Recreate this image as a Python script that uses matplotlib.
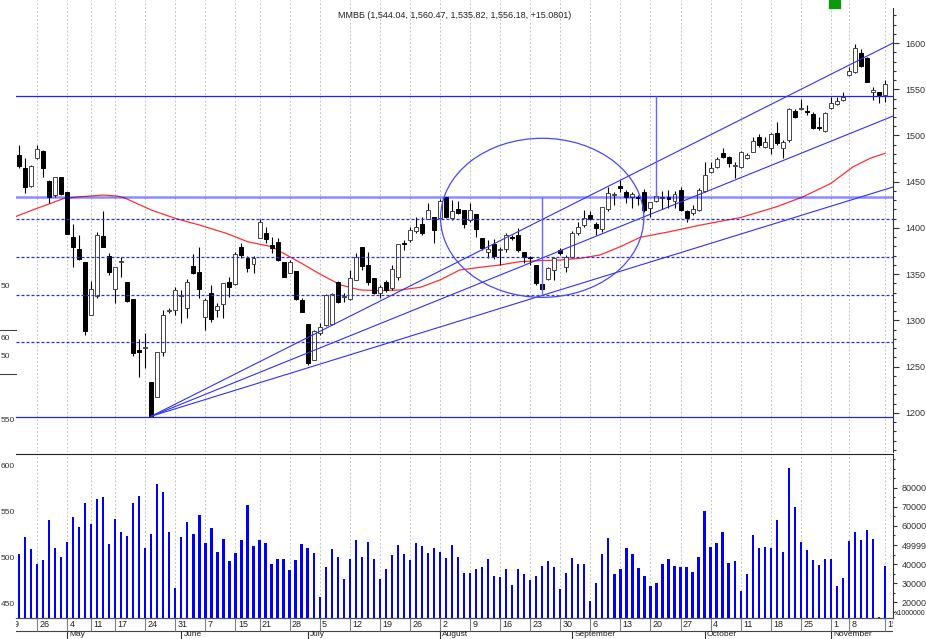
import matplotlib
matplotlib.use("Agg")
import matplotlib.pyplot as plt
from matplotlib.patches import Rectangle, Ellipse
from matplotlib.ticker import FixedLocator
import numpy as np
import pandas as pd

plt.rcParams['font.family'] = ['Liberation Sans', 'DejaVu Sans']

# MICEX trading days 2010 (May/June/Nov holidays, working Saturday Nov 13)
days = pd.bdate_range('2010-04-19', '2010-11-15')
days = days.difference(pd.to_datetime(['2010-05-03', '2010-05-10', '2010-06-14',
                                       '2010-11-04', '2010-11-05']))
days = days.union(pd.to_datetime(['2010-11-13']))
first = 2  # first visible candle (Apr 21)

opens = [1478.9, 1464.5, 1445.3, 1475.3, 1483.6, 1451.1, 1435.6, 1455.4, 1438.5, 1389.9,
         1376.9, 1363.5, 1305.9, 1326.8, 1391.7, 1370.0, 1333.6, 1362.8, 1341.9, 1322.8,
         1268.0, 1270.5, 1233.8, 1216.9, 1266.2, 1310.2, 1311.3, 1326.8, 1313.1, 1358.9,
         1352.0, 1303.3, 1329.3, 1311.3, 1317.8, 1341.9, 1339.4, 1379.8, 1367.9, 1360.7,
         1388.8, 1394.9, 1381.6, 1385.2, 1362.8, 1351.6, 1353.8, 1322.1, 1295.8, 1257.2,
         1286.1, 1295.2, 1296.2, 1342.0, 1325.7, 1322.9, 1343.8, 1379.1, 1360.0, 1345.6,
         1329.4, 1342.0, 1334.8, 1347.4, 1384.1, 1387.0, 1397.1, 1404.3, 1409.4, 1412.2,
         1410.4, 1433.1, 1410.4, 1420.2, 1419.5, 1408.6, 1414.8, 1388.8, 1374.4, 1382.7,
         1376.2, 1376.9, 1389.5, 1392.4, 1374.4, 1367.5, 1360.0, 1339.0, 1344.5, 1354.6,
         1376.2, 1358.2, 1369.0, 1394.2, 1403.2, 1414.0, 1404.3, 1399.0, 1421.0, 1435.6,
         1445.7, 1439.2, 1433.1, 1433.4, 1438.5, 1421.2, 1429.5, 1432.0, 1433.4, 1429.1,
         1441.0, 1418.7, 1415.8, 1419.4, 1439.9, 1460.8, 1466.2, 1481.4, 1477.1, 1466.9,
         1466.2, 1475.3, 1481.7, 1498.7, 1487.9, 1486.1, 1502.3, 1486.1, 1495.1, 1526.4,
         1528.6, 1526.4, 1523.5, 1508.4, 1504.8, 1529.3, 1534.0, 1538.3, 1565.4, 1568.2,
         1588.8, 1584.1, 1546.6, 1546.6, 1544.04]
highs = [1489.7, 1475.3, 1468.0, 1489.7, 1484.0, 1451.5, 1455.5, 1455.5, 1439.0, 1403.9,
         1392.4, 1363.5, 1343.0, 1396.0, 1418.7, 1373.3, 1357.4, 1369.0, 1342.0, 1323.0,
         1279.6, 1286.8, 1234.0, 1266.0, 1311.3, 1313.1, 1335.8, 1332.9, 1344.4, 1371.8,
         1379.0, 1323.9, 1338.3, 1318.5, 1340.1, 1347.3, 1374.4, 1383.4, 1369.7, 1369.7,
         1409.3, 1401.4, 1390.6, 1388.8, 1363.0, 1365.3, 1354.0, 1323.9, 1296.0, 1289.6,
         1296.9, 1328.7, 1329.4, 1342.3, 1329.4, 1354.6, 1372.6, 1379.5, 1374.4, 1345.9,
         1338.4, 1343.8, 1360.0, 1382.7, 1387.0, 1400.7, 1412.2, 1412.2, 1427.4, 1412.3,
         1431.0, 1433.3, 1430.3, 1429.5, 1419.6, 1427.4, 1414.9, 1389.0, 1387.0, 1387.7,
         1379.8, 1394.2, 1392.4, 1399.6, 1374.5, 1369.7, 1360.1, 1340.0, 1358.2, 1368.3,
         1378.0, 1370.8, 1396.7, 1406.8, 1419.5, 1418.7, 1406.8, 1423.1, 1444.0, 1439.2,
         1451.8, 1441.0, 1439.2, 1435.6, 1442.1, 1428.4, 1439.2, 1439.9, 1441.0, 1439.9,
         1444.6, 1419.4, 1424.8, 1442.8, 1471.6, 1471.6, 1477.1, 1486.1, 1478.1, 1471.6,
         1483.2, 1480.7, 1498.7, 1501.2, 1498.7, 1502.3, 1514.2, 1495.1, 1530.0, 1528.6,
         1539.4, 1532.9, 1525.0, 1520.3, 1525.0, 1541.9, 1541.9, 1547.3, 1574.4, 1598.5,
         1593.5, 1585.2, 1552.7, 1547.3, 1560.47]
lows = [1464.5, 1437.4, 1444.0, 1475.0, 1455.4, 1426.6, 1433.8, 1435.6, 1393.0, 1358.1,
        1365.3, 1284.3, 1305.9, 1323.9, 1379.8, 1349.1, 1318.5, 1347.3, 1320.3, 1261.5,
        1238.5, 1248.2, 1196.0, 1216.9, 1261.5, 1307.7, 1305.9, 1297.6, 1302.3, 1350.2,
        1323.9, 1289.6, 1298.7, 1304.1, 1302.3, 1325.7, 1338.3, 1367.2, 1352.7, 1351.6,
        1388.8, 1383.4, 1372.6, 1364.6, 1347.0, 1350.9, 1322.5, 1309.0, 1251.8, 1257.0,
        1284.3, 1294.1, 1295.2, 1318.5, 1320.3, 1322.5, 1343.8, 1354.6, 1338.4, 1328.6,
        1323.9, 1331.2, 1333.0, 1343.8, 1376.2, 1385.2, 1394.2, 1392.4, 1409.4, 1383.4,
        1408.6, 1410.4, 1408.6, 1415.1, 1399.6, 1406.8, 1390.6, 1376.2, 1367.2, 1366.1,
        1360.0, 1374.4, 1387.0, 1374.4, 1361.8, 1360.0, 1338.4, 1333.0, 1343.8, 1343.8,
        1370.8, 1352.8, 1367.2, 1392.4, 1401.4, 1408.6, 1392.4, 1396.0, 1418.0, 1424.8,
        1439.2, 1426.6, 1421.2, 1424.8, 1417.6, 1412.2, 1428.4, 1421.0, 1421.2, 1421.2,
        1418.3, 1406.8, 1414.0, 1418.3, 1439.2, 1459.0, 1465.2, 1475.3, 1466.2, 1454.4,
        1465.2, 1474.5, 1481.7, 1487.1, 1486.1, 1479.6, 1489.7, 1476.0, 1492.6, 1518.5,
        1527.5, 1522.1, 1507.0, 1505.9, 1503.4, 1528.6, 1532.9, 1537.6, 1564.6, 1567.2,
        1574.4, 1557.4, 1538.3, 1534.7, 1535.82]
closes = [1467.0, 1444.6, 1467.3, 1485.0, 1464.5, 1433.8, 1455.4, 1436.7, 1393.5, 1379.0,
          1366.1, 1288.9, 1334.4, 1392.4, 1379.8, 1352.7, 1357.4, 1363.0, 1321.4, 1265.2,
          1265.9, 1271.0, 1196.7, 1265.5, 1305.9, 1310.7, 1332.9, 1327.3, 1341.9, 1350.9,
          1334.0, 1322.1, 1301.2, 1315.6, 1340.1, 1336.5, 1371.8, 1370.8, 1357.1, 1367.9,
          1406.8, 1387.7, 1378.0, 1365.3, 1347.3, 1363.5, 1322.8, 1309.5, 1254.3, 1288.6,
          1292.6, 1327.6, 1328.3, 1320.3, 1326.0, 1345.6, 1368.3, 1359.3, 1342.0, 1330.1,
          1336.6, 1333.0, 1355.3, 1382.7, 1382.7, 1397.8, 1401.4, 1394.2, 1419.5, 1397.8,
          1429.5, 1412.2, 1418.7, 1415.8, 1404.3, 1419.5, 1399.3, 1378.0, 1377.3, 1369.7,
          1376.5, 1392.4, 1389.1, 1376.2, 1368.3, 1367.2, 1340.2, 1334.0, 1357.1, 1367.2,
          1372.6, 1369.0, 1395.0, 1401.4, 1410.4, 1409.4, 1399.6, 1422.5, 1437.5, 1435.9,
          1442.8, 1433.8, 1436.7, 1432.0, 1419.4, 1427.7, 1434.5, 1433.5, 1430.9, 1436.3,
          1419.4, 1411.1, 1420.5, 1441.0, 1457.2, 1465.2, 1474.5, 1476.7, 1469.8, 1467.0,
          1481.7, 1478.9, 1494.0, 1489.7, 1492.5, 1501.2, 1491.5, 1493.3, 1528.6, 1520.3,
          1530.0, 1525.0, 1508.4, 1508.0, 1523.9, 1534.7, 1537.2, 1541.2, 1569.7, 1594.9,
          1575.4, 1558.1, 1549.1, 1543.7, 1556.18]
volumes = [45128, 54028, 47920, 39893, 41987, 63102, 48269, 43558, 51759, 64847,
           59263, 71827, 61183, 74270, 75317, 50538, 63800, 56645, 54551, 72176,
           75666, 48618, 55598, 82122, 77760, 56645, 27504, 54377, 62055, 55947,
           65894, 51236, 58914, 46176, 52981, 41638, 46001, 52807, 71129, 49666,
           52632, 51236, 39893, 42685, 42685, 36926, 41987, 50538, 48269, 45826,
           22618, 38672, 47920, 43907, 32041, 42685, 52632, 43558, 51410, 42860,
           32041, 37276, 44954, 50189, 45477, 41987, 50887, 49666, 45652, 48618,
           46524, 43384, 50189, 43733, 35182, 35182, 37625, 38672, 42511, 33786,
           33088, 37451, 29075, 37276, 34833, 31692, 33961, 39021, 41638, 38323,
           26980, 35531, 43035, 39893, 40242, 20699, 29948, 45128, 53592, 34833,
           37625, 48618, 45128, 37974, 33786, 28376, 30121, 39893, 42511, 39196,
           38323, 38672, 36055, 43558, 67639, 48968, 50887, 56820, 40591, 41812,
           26108, 34833, 55249, 48269, 48968, 48618, 62927, 46350, 90324, 69908,
           51410, 47225, 42161, 39545, 42511, 42511, 28726, 32739, 52109, 56820,
           52632, 57867, 52981, 12300, 39196]

# moving average (red), read at sample positions (trading-day index)
ma_idx = [1.5, 4.5, 9.5, 12.3, 16, 18.4, 19.5, 24, 28, 32, 36.5, 40, 44, 47, 49, 52,
          55.5, 58.7, 62, 65.4, 68.7, 72, 75.3, 78.7, 82, 85.3, 88.6, 92, 95.3, 98.6,
          102, 105.3, 110.2, 115.2, 122, 128, 132.4, 137, 140.7, 143.5, 146]
ma_val = [1412.5, 1420.0, 1432.0, 1433.8, 1435.6, 1434.5, 1432.7, 1419.4, 1410.4, 1403.2,
          1394.2, 1385.2, 1379.8, 1369.0, 1361.8, 1350.3, 1338.4, 1333.0, 1332.2, 1333.0,
          1335.8, 1343.8, 1354.6, 1357.5, 1360.0, 1363.6, 1364.7, 1365.4, 1367.2, 1370.8,
          1379.8, 1389.9, 1396.0, 1403.0, 1411.3, 1423.0, 1433.8, 1448.2, 1466.2, 1475.3,
          1480.7]

# drawn studies
solid_levels = [1542.2, 1195.3]
band_level = 1433.7
dashed_levels = [1409.3, 1368.6, 1327.2, 1276.4]
fan_apex = (24, 1196.5)
fan_end_idx = 147.33
fan_end_price = [1600.0, 1521.0, 1444.3]
vert_lines = [(89, 1327.2, 1433.7), (108, 1433.7, 1542.2)]
ellipse_c, ellipse_w, ellipse_h = (89.0, 1411.0), 33.8, 172.0

vol_ticks = [20000, 30000, 40000, 50000, 60000, 70000, 80000]
vol_labels = ['20000', '30000', '40000', '49999', '60000', '70000', '80000']

x = np.arange(first, first + len(opens))
wk = days.isocalendar().week.values
week_idx = [i for i in range(len(days)) if i == 0 or wk[i] != wk[i - 1]]
month_idx = [i for i in range(1, len(days)) if days[i].month != days[i - 1].month]

W, H = 926, 639
fig = plt.figure(figsize=(W / 100, H / 100), dpi=100)
L, R = 16, 893
xlim = (1.508, 147.33)

# ---- price panel
ax = fig.add_axes([L / W, (H - 452) / H, (R - L) / W, 452 / H])
ax.set_xlim(*xlim)
ax.set_ylim(1157.8, 1646.5)
for wi in week_idx:
    ax.axvline(wi, color='#c4c4c4', lw=0.7, ls=(0, (2, 2)), zorder=0)

ax.plot(ma_idx, ma_val, color='#ff3030', lw=0.9, zorder=2)
for lv in solid_levels:
    ax.axhline(lv, color='#2222ff', lw=0.9, zorder=5)
ax.axhline(band_level, color='#0000ff', alpha=0.45, lw=1.8, zorder=5)
for lv in dashed_levels:
    ax.axhline(lv, color='#2a2aee', lw=0.9, ls=(0, (2.4, 1.6)), zorder=5)
for p in fan_end_price:
    ax.plot([fan_apex[0], fan_end_idx], [fan_apex[1], p], color='#3030ff', lw=0.8, zorder=5)
for vx, y0, y1 in vert_lines:
    ax.vlines(vx, y0, y1, color='#6666ff', lw=1.0, zorder=5)
ax.add_patch(Ellipse(ellipse_c, ellipse_w, ellipse_h, fill=False,
                     edgecolor='#4848ff', lw=0.9, zorder=5))

for xi, o, h, l, c in zip(x, opens, highs, lows, closes):
    ax.vlines(xi, l, h, color='black', lw=0.8, zorder=3)
    up = c >= o
    ax.add_patch(Rectangle((xi - 0.33, min(o, c)), 0.66, max(abs(c - o), 1.0),
                           facecolor='white' if up else 'black',
                           edgecolor='#444444' if up else 'black', lw=0.7, zorder=4))

ax.set_xticks([])
ax.yaxis.tick_right()
ax.yaxis.set_major_locator(FixedLocator(np.arange(1200, 1601, 50)))
ax.yaxis.set_minor_locator(FixedLocator(np.arange(1160, 1640, 10)))
ax.tick_params(axis='y', which='major', length=4.5, width=0.8, pad=4.5,
               labelsize=6.5, color='#333333', labelcolor='#333333')
ax.tick_params(axis='y', which='minor', length=2, width=0.8, color='#333333')
for s in ['top', 'left', 'bottom']:
    ax.spines[s].set_visible(False)
ax.spines['right'].set_bounds(1157.8, 1637.8)
ax.spines['right'].set_color('#333333')

# ---- volume panel
vbase, vtop = 11780, 97650
axv = fig.add_axes([L / W, (H - 618) / H, (R - L) / W, 164 / H])
axv.set_xlim(*xlim)
axv.set_ylim(vbase, vtop)
for wi in week_idx:
    axv.axvline(wi, color='#c4c4c4', lw=0.7, ls=(0, (2, 2)), zorder=0)
axv.bar(x, np.array(volumes) - vbase, bottom=vbase, width=0.38, color='#0000ff', zorder=2)
axv.set_xticks([])
axv.yaxis.tick_right()
axv.yaxis.set_major_locator(FixedLocator(vol_ticks))
axv.set_yticklabels(vol_labels)
axv.yaxis.set_minor_locator(FixedLocator(np.arange(15000, 96000, 5000)))
axv.tick_params(axis='y', which='major', length=3, width=0.8, pad=3,
                labelsize=6.5, color='#333333', labelcolor='#333333')
axv.tick_params(axis='y', which='minor', length=1.5, width=0.8, color='#333333')
for s in ['left', 'bottom']:
    axv.spines[s].set_visible(False)
axv.spines['top'].set_color('#222222')
axv.spines['right'].set_color('#333333')

# ---- date strip
axd = fig.add_axes([L / W, 0, (R - L) / W, 21 / H])
axd.set_xlim(*xlim)
axd.set_ylim(0, 1)
axd.axis('off')
mid = 8 / 21
axd.axhline(1.0, color='#555555', lw=0.9, clip_on=False)
axd.axhline(mid, color='#444444', lw=0.8)
axd.vlines(week_idx, mid, 1.0, color='#808080', lw=0.8)
axd.vlines(month_idx, 0, mid, color='#333333', lw=0.8)
for wi in week_idx:
    axd.text(wi + 0.4, 0.69, str(days[wi].day), fontsize=6.5, color='#222222',
             ha='left', va='center', clip_on=True)
for mi in month_idx:
    axd.text(mi + 0.4, mid * 0.5, days[mi].strftime('%B'), fontsize=6,
             color='#222222', ha='left', va='center', clip_on=True)

# ---- figure decorations
fig.text(454.5 / W, 1 - 15 / H,
         'ММВБ (1,544.04, 1,560.47, 1,535.82, 1,556.18, +15.0801)',
         fontsize=6.5, color='#222222', ha='center', va='center')
fig.add_artist(Rectangle((829 / W, 1 - 7.5 / H), 11 / W, 7.5 / H,
                         transform=fig.transFigure, color='#0c9a0c'))
fig.text(895 / W, 1 - 613.5 / H, 'x1000000', fontsize=5, color='#222222',
         ha='left', va='center')

# remnants of a neighbouring chart's axis at the left edge
for s, yy in [('50', 287), ('60', 339), ('50', 357), ('550', 421),
              ('600', 467), ('550', 513), ('500', 558), ('450', 604)]:
    fig.text(1 / W, 1 - yy / H, s, fontsize=6, color='#333333', ha='left', va='center')
for yy in [330, 374]:
    fig.add_artist(plt.Line2D([0, 16 / W], [1 - yy / H, 1 - yy / H],
                              transform=fig.transFigure, color='#444444', lw=0.8))

fig.savefig('out.png', dpi=100)
